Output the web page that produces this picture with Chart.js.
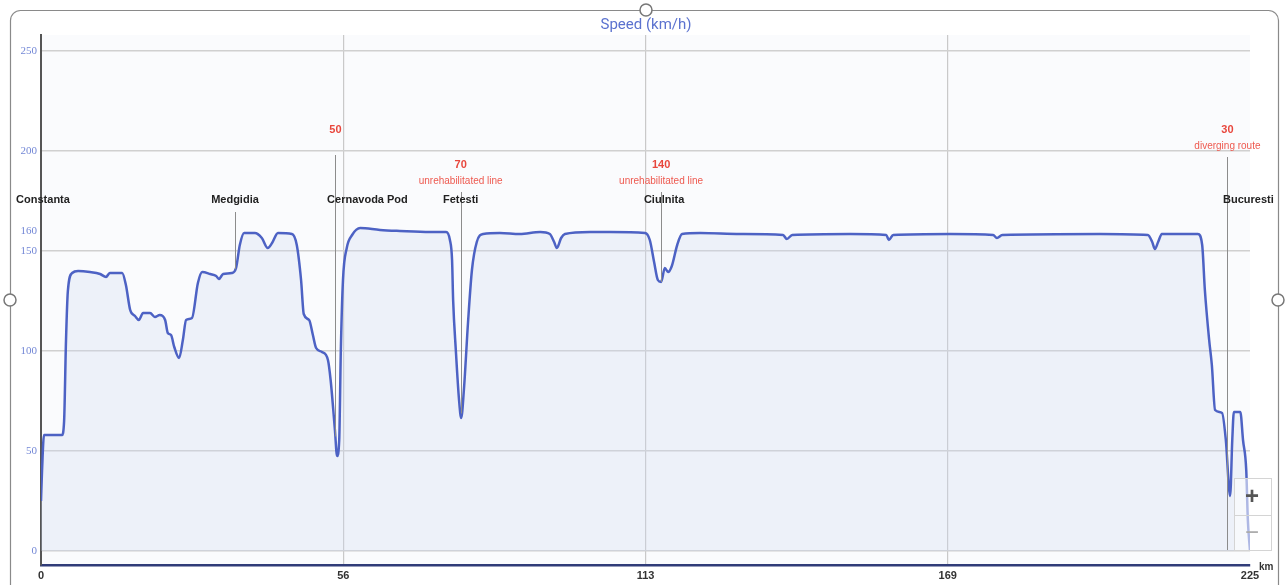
<!DOCTYPE html>
<html lang="en">
<head>
<meta charset="UTF-8">
<title>Speed (km/h)</title>
<script src="https://cdn.jsdelivr.net/npm/chart.js"></script>
<style>
    html, body { margin: 0; padding: 0; background: #fff; }
    .chart-box { width: 1286px; height: 585px; position: relative; }
</style>
</head>
<body>
<div class="chart-box"><canvas id="speedChart" width="1286" height="585"></canvas></div>
<script>
// speed profile Constanta - Bucuresti
const distanceKm = [0, 0.19, 0.56, 1.3, 3.9, 4.3, 4.65, 5.0, 5.8, 6.9, 9.1, 11.0, 12.1, 12.8, 15.1, 15.8, 16.6, 17.5, 18.2, 19.0,
    20.3, 21.2, 22.1, 23.1, 23.6, 24.2, 24.8, 25.7, 26.4, 27.0, 28.1, 29.2, 30.0, 31.5, 32.6, 33.1, 33.9, 35.5, 36.3, 37.0,
    37.8, 39.8, 41.1, 42.2, 43.0, 44.1, 46.7, 47.6, 48.4, 48.9, 49.9, 50.6, 51.2, 52.3, 53.4, 53.9, 54.7, 55.1, 55.5, 55.8,
    56.2, 56.9, 57.9, 59.4, 63.1, 66.8, 72.4, 75.4, 76.1, 76.5, 76.7, 77.2, 77.8, 78.2, 78.7, 79.5, 80.2, 81.1, 82.3, 85.4,
    89.1, 92.9, 94.7, 95.5, 96.0, 96.8, 97.5, 102.2, 105.9, 112.4, 113.3, 114.1, 114.8, 115.4, 116.1, 116.7, 117.4, 118.4, 119.3, 122.7,
    130.1, 138.1, 138.8, 139.8, 150.6, 157.3, 157.8, 158.6, 169.2, 177.2, 177.9, 178.9, 197.1, 206.0, 206.8, 207.3, 207.9, 208.6, 215.3, 216.1,
    216.6, 217.4, 217.9, 218.5, 219.8, 220.5, 221.3, 221.7, 222.0, 223.2, 223.7, 224.3, 224.6, 225];
const speedKmh = [25, 40, 58, 58, 58, 65, 105, 130, 139, 140, 139.5, 138.5, 137, 139, 139, 133, 120.5, 117.5, 115.5, 119,
    119, 117, 118, 115.5, 109, 108, 102, 96.5, 105.5, 115.5, 116.5, 134, 139.5, 138.5, 137.5, 136, 138.5, 139, 141.5, 153,
    159, 159, 156.5, 151.5, 154, 159, 158.5, 153, 135.5, 118.5, 115.5, 108, 101.5, 99.5, 95.5, 85.5, 60.5, 47.5, 55.5, 100.5,
    135.5, 151.5, 158, 161.5, 160.5, 160, 159.5, 159.5, 155.5, 145.5, 125.5, 100.5, 75.5, 66.5, 80.5, 115.5, 140.5, 154.5, 158.5, 159,
    158.5, 159.5, 158.5, 154.5, 151.5, 156.5, 158.5, 159.5, 159.5, 159, 155.5, 144.5, 135.5, 134.5, 141.5, 139.5, 142.5, 153, 158.5, 159,
    158.5, 158, 156, 158, 158.5, 158, 155.5, 158, 158.5, 158, 156.5, 158, 158.5, 158, 154.5, 151, 154.5, 158.5, 158.5, 153,
    130.5, 105.5, 93, 70.5, 69, 55.5, 27.5, 55.5, 69.5, 69.5, 55.5, 40.5, 15.5, 0];

const xTicks = [0, 56.25, 112.5, 168.75, 225];
const yTicks = [0, 50, 100, 150, 160, 200, 250];

const stationNames = ['Constanta', 'Medgidia', 'Cernavoda Pod', 'Fetesti', 'Ciulnita', 'Bucuresti'];
const stationKm = [0, 36.1, 54.8, 78.1, 115.4, 220.8];

const limitKm = [54.8, 78.1, 115.4, 220.8];
const limitValues = ['50', '70', '140', '30'];
const limitNotes = ['', 'unrehabilitated line', 'unrehabilitated line', 'diverging route'];

// layout bits for the overlay (pixels)
const stationLabelShift = [2, 0, 32, 0, 3, 21];
const limitTopOffset = [95, 130, 130, 95];

function speedAt(km) {
    for (let i = 1; i < distanceKm.length; i++) {
        if (km <= distanceKm[i]) {
            let t = (km - distanceKm[i - 1]) / (distanceKm[i] - distanceKm[i - 1]);
            return speedKmh[i - 1] + t * (speedKmh[i] - speedKmh[i - 1]);
        }
    }
    return speedKmh[speedKmh.length - 1];
}

const sansFont = '"Liberation Sans", Arial, sans-serif';

const overlay = {
    id: 'overlay',
    beforeDraw(chart) {
        const ctx = chart.ctx;
        const a = chart.chartArea;
        ctx.save();
        ctx.fillStyle = '#ffffff';
        ctx.fillRect(0, 0, chart.width, chart.height);
        ctx.fillStyle = '#fafbfd';
        ctx.fillRect(a.left, a.top, a.right - a.left, a.bottom - a.top);
        // screenshot frame
        ctx.strokeStyle = '#8a8a8a';
        ctx.lineWidth = 1.2;
        ctx.beginPath();
        ctx.roundRect(10.5, 10.5, 1268, 620, 10);
        ctx.stroke();
        ctx.restore();
    },
    afterDatasetsDraw(chart) {
        const ctx = chart.ctx;
        const x = chart.scales.x;
        const y = chart.scales.y;
        const a = chart.chartArea;
        ctx.save();

        // station marker lines
        ctx.strokeStyle = '#8c8c8c';
        ctx.lineWidth = 1;
        stationKm.forEach((km, i) => {
            if (i === 0) return;
            let px = Math.round(x.getPixelForValue(km)) + 0.5;
            let li = limitKm.indexOf(km);
            let top = li >= 0 ? a.top + limitTopOffset[li] + (limitNotes[li] ? 27 : 25) : a.top + 177;
            let bottom = i === stationKm.length - 1 ? a.bottom - 15 : y.getPixelForValue(speedAt(km));
            ctx.beginPath();
            ctx.moveTo(px, top);
            ctx.lineTo(px, bottom);
            ctx.stroke();
        });

        // station names
        ctx.fillStyle = '#222';
        ctx.font = 'bold 11px ' + sansFont;
        ctx.textAlign = 'center';
        ctx.textBaseline = 'middle';
        stationNames.forEach((name, i) => {
            ctx.fillText(name, x.getPixelForValue(stationKm[i]) + stationLabelShift[i], a.top + 165);
        });

        // speed restrictions
        limitKm.forEach((km, i) => {
            let px = x.getPixelForValue(km);
            let top = a.top + limitTopOffset[i];
            ctx.fillStyle = '#e8473d';
            ctx.font = 'bold 11px ' + sansFont;
            ctx.fillText(limitValues[i], px, top);
            if (limitNotes[i]) {
                ctx.font = '10px ' + sansFont;
                ctx.fillStyle = '#ee5a50';
                ctx.fillText(limitNotes[i], px, top + 16);
            }
        });

        // title
        ctx.fillStyle = '#5b72cf';
        ctx.font = '15px Roboto, ' + sansFont;
        ctx.fillText('Speed (km/h)', 646, 25);

        // unit at end of x axis
        ctx.fillStyle = '#333';
        ctx.font = 'bold 10px ' + sansFont;
        ctx.textAlign = 'left';
        ctx.fillText('km', 1259, a.bottom + 2);

        // zoom buttons
        ctx.fillStyle = 'rgba(255,255,255,0.55)';
        ctx.strokeStyle = '#d4d4d4';
        ctx.fillRect(1234, 478, 37, 72);
        ctx.strokeRect(1234.5, 478.5, 37, 72);
        ctx.beginPath();
        ctx.moveTo(1234, 515.5);
        ctx.lineTo(1271, 515.5);
        ctx.stroke();
        ctx.textAlign = 'center';
        ctx.font = 'bold 24px ' + sansFont;
        ctx.fillStyle = '#555';
        ctx.fillText('+', 1252, 497);
        ctx.fillStyle = '#aaa';
        ctx.font = '24px ' + sansFont;
        ctx.fillText('\u2212', 1252, 533);

        // frame handles
        [[646, 10], [10, 300], [1278, 300]].forEach(p => {
            ctx.beginPath();
            ctx.arc(p[0], p[1], 6, 0, Math.PI * 2);
            ctx.fillStyle = '#fff';
            ctx.fill();
            ctx.strokeStyle = '#777';
            ctx.lineWidth = 1.5;
            ctx.stroke();
        });
        ctx.restore();
    }
};

new Chart(document.getElementById('speedChart'), {
    type: 'line',
    data: {
        datasets: [{
            label: 'Speed (km/h)',
            data: distanceKm.map((km, i) => ({ x: km, y: speedKmh[i] })),
            borderColor: '#4d62c4',
            borderWidth: 2.5,
            backgroundColor: 'rgba(205,215,240,0.28)',
            fill: 'origin',
            pointRadius: 0,
            cubicInterpolationMode: 'monotone'
        }]
    },
    options: {
        responsive: false,
        animation: false,
        layout: { padding: { top: 35, right: 36, left: 0, bottom: 0 } },
        plugins: { legend: { display: false }, title: { display: false }, tooltip: { enabled: false } },
        scales: {
            x: {
                type: 'linear',
                min: 0,
                max: 225,
                afterBuildTicks: scale => { scale.ticks = xTicks.map(v => ({ value: v })); },
                afterFit: scale => { scale.height = 20; },
                ticks: {
                    padding: 4,
                    maxRotation: 0,
                    color: '#333',
                    font: { size: 11, weight: 'bold', family: sansFont },
                    callback: v => Math.round(v)
                },
                grid: {
                    color: ctx => (ctx.tick && (ctx.tick.value === 0 || ctx.tick.value === 225)) ? 'rgba(0,0,0,0)' : '#c9c9c9',
                    lineWidth: 1.2,
                    drawTicks: false
                },
                border: { color: '#2f3b78', width: 2.5 }
            },
            y: {
                min: -7,
                max: 258,
                afterBuildTicks: scale => { scale.ticks = yTicks.map(v => ({ value: v })); },
                afterFit: scale => { scale.width = 41; },
                ticks: {
                    padding: 4,
                    color: '#7488d6',
                    font: { size: 11, family: '"Liberation Serif", "DejaVu Serif", serif' }
                },
                grid: {
                    color: ctx => (ctx.tick && ctx.tick.value === 160) ? 'rgba(0,0,0,0)' : '#d0d0d0',
                    lineWidth: 1.5,
                    drawTicks: false
                },
                border: { color: '#555', width: 2 }
            }
        }
    },
    plugins: [overlay]
});
</script>
</body>
</html>
